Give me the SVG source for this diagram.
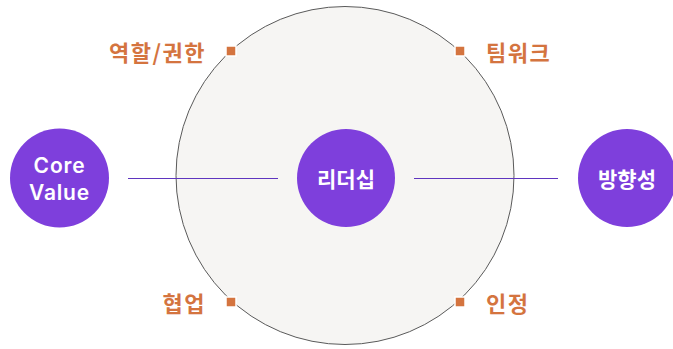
<svg xmlns="http://www.w3.org/2000/svg" width="673" height="349" viewBox="0 0 673 349">
<style>
.node{fill:#7e3fdc}
.nl{fill:#fff;font-family:"Noto Sans CJK KR","Noto Sans",sans-serif;font-weight:bold;font-size:21px;text-anchor:middle;dominant-baseline:central}
.en{fill:#fff;font-family:Inter,"Noto Sans",sans-serif;font-weight:600;font-size:21px;letter-spacing:0.8px;text-anchor:middle}
.lab{fill:#d4743f;font-family:"Noto Sans CJK KR","Noto Sans",sans-serif;font-weight:bold;font-size:22px;letter-spacing:1.5px;dominant-baseline:central}
.sq{fill:#d4743f;stroke:#fff;stroke-width:1.5}
.conn{stroke:#5f35bf;stroke-width:1}
</style>
<rect width="673" height="349" fill="#fff"/>
<g id="ring">
<circle cx="345" cy="175.5" r="169" fill="#f6f5f3" stroke="#5a5a5a" stroke-width="1"/>
</g>
<g id="connectors">
<line class="conn" x1="128" y1="178.5" x2="278" y2="178.5"/>
<line class="conn" x1="414" y1="178.5" x2="558" y2="178.5"/>
</g>
<g id="node-core">
<circle class="node" cx="59.5" cy="178" r="49.5"/>
<text class="en" x="59.5" y="173">Core</text>
<text class="en" x="59.5" y="200">Value</text>
</g>
<g id="node-leader">
<circle class="node" cx="346" cy="178" r="49"/>
<text class="nl" x="346" y="178">리더십</text>
</g>
<g id="node-direction">
<circle class="node" cx="627" cy="178" r="49"/>
<text class="nl" x="627" y="178">방향성</text>
</g>
<g id="item-role">
<rect class="sq" x="226" y="46" width="10" height="10"/>
<text class="lab" x="206" y="51" text-anchor="end">역할/권한</text>
</g>
<g id="item-team">
<rect class="sq" x="455" y="46" width="10" height="10"/>
<text class="lab" x="486" y="51">팀워크</text>
</g>
<g id="item-coop">
<rect class="sq" x="226" y="297" width="10" height="10"/>
<text class="lab" x="206" y="302" text-anchor="end">협업</text>
</g>
<g id="item-recog">
<rect class="sq" x="455" y="297" width="10" height="10"/>
<text class="lab" x="486" y="302">인정</text>
</g>
</svg>
